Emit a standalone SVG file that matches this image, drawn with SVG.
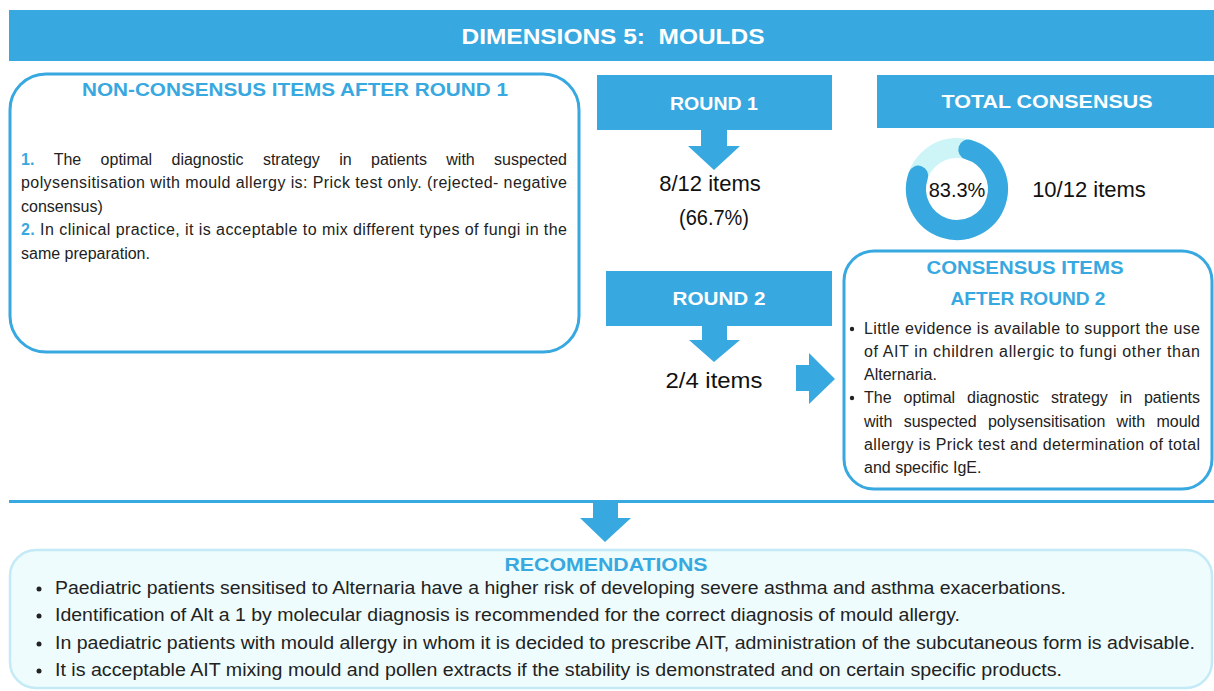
<svg xmlns="http://www.w3.org/2000/svg" width="1214" height="691" viewBox="0 0 1214 691">
<defs>
<style>
.bar{fill:#38a8e0}
.hd{font-family:"Liberation Sans",Arial,sans-serif;font-weight:bold;fill:#fff;text-anchor:middle}
.ttl{font-family:"Liberation Sans",Arial,sans-serif;font-weight:bold;fill:#38a8e0;text-anchor:middle}
.tx{font-family:"Liberation Sans",Arial,sans-serif;fill:#222;font-size:16px}
.num{font-family:"Liberation Sans",Arial,sans-serif;fill:#111;font-size:22px;text-anchor:middle}
.rec{font-family:"Liberation Sans",Arial,sans-serif;fill:#222;font-size:17.5px}
.blue{fill:#38a8e0}
.frame{fill:#fff;stroke:#38a8e0;stroke-width:3}
.end{text-anchor:end}
</style>
</defs>
<rect width="1214" height="691" fill="#fff"/>

<g id="header">
<rect class="bar" x="9" y="10" width="1205" height="51"/>
<text class="hd" x="613" y="44" font-size="22" textLength="303" lengthAdjust="spacingAndGlyphs">DIMENSIONS 5:&#160; MOULDS</text>
</g>

<g id="non-consensus">
<rect class="frame" x="10" y="74" width="569" height="278" rx="36"/>
<text class="ttl" x="295" y="96" font-size="19" textLength="426" lengthAdjust="spacingAndGlyphs">NON-CONSENSUS ITEMS AFTER ROUND 1</text>
<text class="tx" y="165"><tspan x="21" class="blue" font-weight="bold">1.</tspan><tspan x="53.7">The</tspan><tspan x="100.6">optimal</tspan><tspan x="171.5">diagnostic</tspan><tspan x="262.9">strategy</tspan><tspan x="339.2">in</tspan><tspan x="371">patients</tspan><tspan x="446.3">with</tspan><tspan x="567" class="end">suspected</tspan></text>
<text class="tx" x="21" y="188" textLength="546" lengthAdjust="spacing">polysensitisation with mould allergy is: Prick test only. (rejected- negative</text>
<text class="tx" x="21" y="212">consensus)</text>
<text class="tx" x="21" y="235" textLength="546" lengthAdjust="spacing"><tspan class="blue" font-weight="bold">2.</tspan> In clinical practice, it is acceptable to mix different types of fungi in the</text>
<text class="tx" x="21" y="259">same preparation.</text>
</g>

<g id="round1">
<rect class="bar" x="597" y="75" width="235" height="55"/>
<text class="hd" x="714" y="110" font-size="19" textLength="88" lengthAdjust="spacingAndGlyphs">ROUND 1</text>
<text class="num" x="710" y="191">8/12 items</text>
<text class="num" x="714" y="225" textLength="70" lengthAdjust="spacingAndGlyphs">(66.7%)</text>
</g>

<g id="total-consensus">
<rect class="bar" x="877" y="75" width="337" height="53"/>
<text class="hd" x="1047" y="108" font-size="19" textLength="211" lengthAdjust="spacingAndGlyphs">TOTAL CONSENSUS</text>
<circle cx="957" cy="189" r="41" fill="none" stroke="#cdf5f8" stroke-width="20"/>
<path d="M968.3,149.6 A41,41 0 1 1 918.2,175.65" fill="none" stroke="#38a8e0" stroke-width="20" stroke-linecap="round"/>
<text x="957" y="197" font-family="Liberation Sans, Arial, sans-serif" font-size="20" fill="#111" text-anchor="middle">83.3%</text>
<text class="num" x="1089" y="197">10/12 items</text>
</g>

<g id="round2">
<rect class="bar" x="606" y="271" width="226" height="55"/>
<text class="hd" x="719" y="305" font-size="19" textLength="93" lengthAdjust="spacingAndGlyphs">ROUND 2</text>
<text class="num" x="714" y="388" textLength="97" lengthAdjust="spacingAndGlyphs">2/4 items</text>
</g>

<g id="consensus-items">
<rect class="frame" x="844" y="251" width="368" height="238" rx="30"/>
<text class="ttl" x="1025" y="274" font-size="18" textLength="197" lengthAdjust="spacingAndGlyphs">CONSENSUS ITEMS</text>
<text class="ttl" x="1028" y="305" font-size="18" textLength="155" lengthAdjust="spacingAndGlyphs">AFTER ROUND 2</text>
<circle cx="852" cy="329" r="2.2" fill="#222"/>
<text class="tx" x="864" y="334" textLength="336" lengthAdjust="spacing">Little evidence is available to support the use</text>
<text class="tx" x="864" y="357" textLength="336" lengthAdjust="spacing">of AIT in children allergic to fungi other than</text>
<text class="tx" x="864" y="380">Alternaria.</text>
<circle cx="852" cy="398" r="2.2" fill="#222"/>
<text class="tx" y="403"><tspan x="864">The</tspan><tspan x="903.5">optimal</tspan><tspan x="967">diagnostic</tspan><tspan x="1050.9">strategy</tspan><tspan x="1119.7">in</tspan><tspan x="1200" class="end">patients</tspan></text>
<text class="tx" y="427"><tspan x="864">with</tspan><tspan x="903.7">suspected</tspan><tspan x="987.9">polysensitisation</tspan><tspan x="1116.6">with</tspan><tspan x="1200" class="end">mould</tspan></text>
<text class="tx" x="864" y="450" textLength="336" lengthAdjust="spacing">allergy is Prick test and determination of total</text>
<text class="tx" x="864" y="473">and specific IgE.</text>
</g>

<g id="recommendations">
<rect x="10" y="550" width="1202" height="138" rx="26" fill="#effcfd" stroke="#c3eaf6" stroke-width="2.5"/>
<text class="ttl" x="606" y="571" font-size="19" textLength="203" lengthAdjust="spacingAndGlyphs">RECOMENDATIONS</text>
<circle cx="39" cy="589" r="2.5" fill="#222"/>
<text class="rec" x="55" y="594" textLength="1011" lengthAdjust="spacingAndGlyphs">Paediatric patients sensitised to Alternaria have a higher risk of developing severe asthma and asthma exacerbations.</text>
<circle cx="39" cy="616" r="2.5" fill="#222"/>
<text class="rec" x="55" y="621" textLength="905" lengthAdjust="spacingAndGlyphs">Identification of Alt a 1 by molecular diagnosis is recommended for the correct diagnosis of mould allergy.</text>
<circle cx="39" cy="644" r="2.5" fill="#222"/>
<text class="rec" x="55" y="649" textLength="1140" lengthAdjust="spacingAndGlyphs">In paediatric patients with mould allergy in whom it is decided to prescribe AIT, administration of the subcutaneous form is advisable.</text>
<circle cx="39" cy="671" r="2.5" fill="#222"/>
<text class="rec" x="55" y="676" textLength="1007" lengthAdjust="spacingAndGlyphs">It is acceptable AIT mixing mould and pollen extracts if the stability is demonstrated and on certain specific products.</text>
</g>

<g id="connectors" class="blue">
<polygon points="701,130 727,130 727,146 740,146 714,170 688,146 701,146"/>
<polygon points="702,326 727,326 727,340 740,340 714,362 689,340 702,340"/>
<polygon points="796,365 809,365 809,353 835,379 809,404 809,391 796,391"/>
<rect x="9" y="500" width="1205" height="3"/>
<polygon points="593,503 618,503 618,518 631,518 605,542 580,518 593,518"/>
</g>
</svg>
